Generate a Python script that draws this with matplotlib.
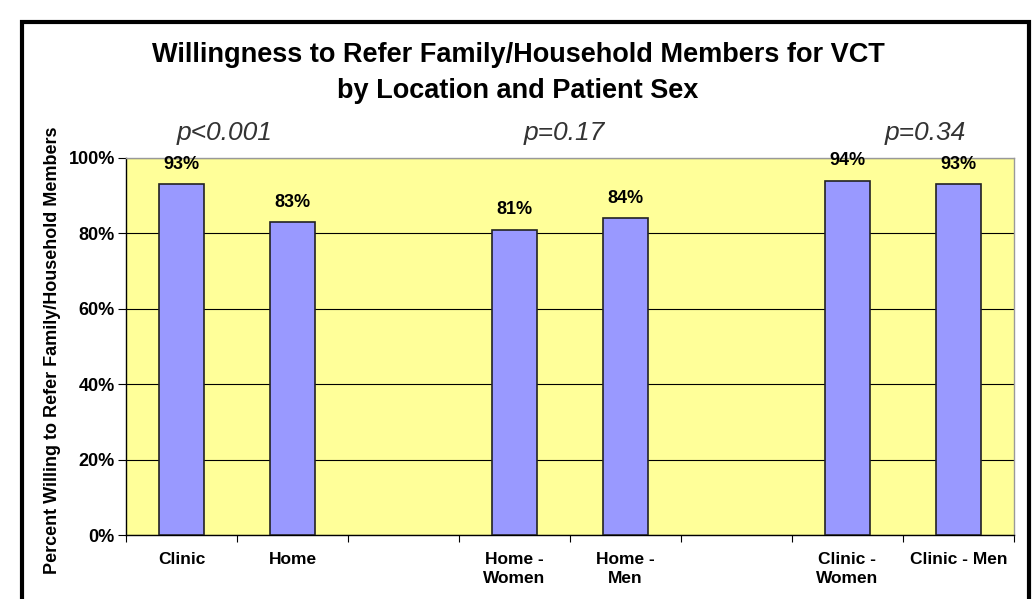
import numpy as np
import matplotlib
matplotlib.use("Agg")
import matplotlib.pyplot as plt
from matplotlib.patches import Rectangle

# Datos
categorias = ["Clinic", "Home", "", "Home -\nWomen", "Home -\nMen", "",
              "Clinic -\nWomen", "Clinic - Men"]
porcentajes = [93, 83, np.nan, 81, 84, np.nan, 94, 93]
p_textos = ["p<0.001", "p=0.17", "p=0.34"]
p_posiciones = [0.39, 3.45, 6.7]  # en unidades de categoria

plt.rcParams['font.family'] = ['Liberation Sans', 'DejaVu Sans']

fig = plt.figure(figsize=(10.36, 5.99), dpi=100)
ax = fig.add_axes([126 / 1036, 64 / 599, 888 / 1036, 377 / 599])
ax.set_facecolor('#FFFF99')

x = np.arange(len(categorias))
valores = np.array(porcentajes, dtype=float)
mask = ~np.isnan(valores)
ax.bar(x[mask], valores[mask], width=0.41, color='#9999FF',
       edgecolor='#222222', linewidth=1.2, zorder=3)

# Etiquetas de valor
for xi, v in zip(x[mask], valores[mask]):
    ax.text(xi, v + 3.0, '{:.0f}%'.format(v), ha='center', va='bottom',
            fontsize=13, fontweight='bold', zorder=4)

# p-valores
for pos, txt in zip(p_posiciones, p_textos):
    ax.text(pos, 106.5, txt, ha='center', va='center', fontsize=19,
            style='italic', color='#333333')

ax.set_xlim(-0.5, len(categorias) - 0.5)
ax.set_ylim(0, 100)
ax.set_yticks(np.arange(0, 101, 20))
ax.set_yticklabels(['{}%'.format(t) for t in range(0, 101, 20)],
                   fontsize=13, fontweight='bold')
ax.yaxis.grid(True, color='black', linewidth=0.8, zorder=1)
ax.set_axisbelow(True)

# Ticks en los limites entre categorias, etiquetas centradas
ax.set_xticks(np.arange(-0.5, len(categorias), 1.0))
ax.set_xticklabels([])
ax.set_xticks(x, minor=True)
ax.set_xticklabels(categorias, minor=True, fontsize=12.5, fontweight='bold',
                   linespacing=1.35)
ax.tick_params(axis='x', which='minor', length=0, pad=12)
ax.tick_params(axis='x', which='major', length=5, direction='out')
ax.tick_params(axis='y', length=6, direction='out', pad=2)

for lado in ['top', 'right']:
    ax.spines[lado].set_color('#999999')
    ax.spines[lado].set_linewidth(1)
for lado in ['left', 'bottom']:
    ax.spines[lado].set_color('black')
    ax.spines[lado].set_linewidth(1)

ax.set_ylabel('Percent Willing to Refer Family/Household Members',
              fontsize=13, fontweight='bold')
ax.yaxis.set_label_coords(-0.073, 0.49)

fig.text(518 / 1036, 1 - 73 / 599,
         'Willingness to Refer Family/Household Members for VCT\nby Location and Patient Sex',
         ha='center', va='center', fontsize=19.5, fontweight='bold', linespacing=1.46)

# Marco de la figura
fig.patches.append(Rectangle((21.5 / 1036, -0.1), (1029 - 21.5) / 1036, 1.1 - 22 / 599,
                             transform=fig.transFigure, fill=False,
                             edgecolor='black', linewidth=3))

fig.savefig('out.png', dpi=100)
